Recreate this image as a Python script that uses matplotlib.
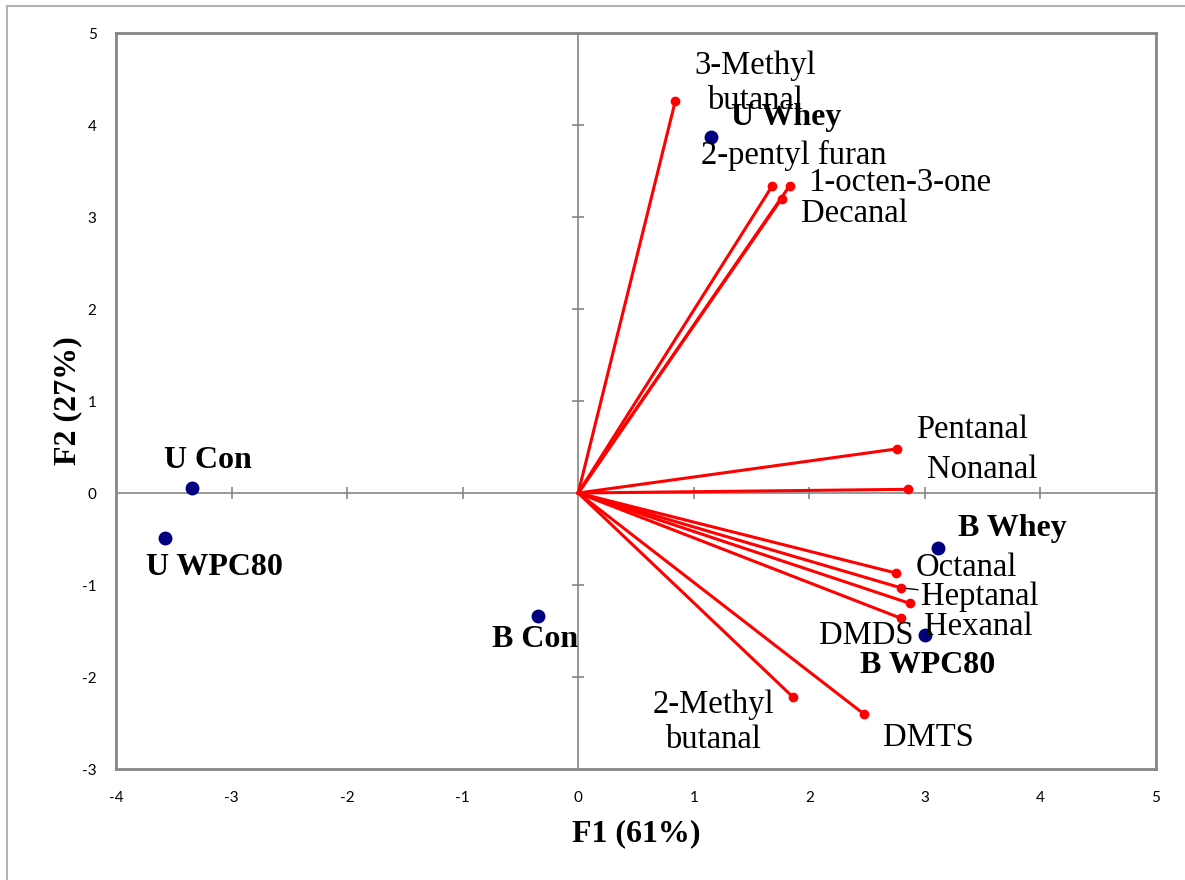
import matplotlib
matplotlib.use("Agg")
import matplotlib.pyplot as plt
from matplotlib.lines import Line2D

plt.rcParams["axes.unicode_minus"] = False

# PCA scores (samples) and loadings (volatiles), F1 vs F2
samples = ["U Whey", "U Con", "U WPC80", "B Con", "B Whey", "B WPC80"]
sample_f1 = [1.15, -3.34, -3.58, -0.35, 3.11, 3.00]
sample_f2 = [3.87, 0.05, -0.49, -1.34, -0.60, -1.54]

volatiles = ["3-Methyl\nbutanal", "2-pentyl furan", "1-octen-3-one", "Decanal",
             "Pentanal", "Nonanal", "Octanal", "Heptanal", "Hexanal", "DMDS",
             "2-Methyl\nbutanal", "DMTS"]
vol_f1 = [0.84, 1.68, 1.83, 1.76, 2.76, 2.85, 2.75, 2.79, 2.87, 2.79, 1.86, 2.47]
vol_f2 = [4.26, 3.34, 3.34, 3.20, 0.48, 0.04, -0.87, -1.03, -1.20, -1.36, -2.22, -2.40]

x_ticks = [-4, -3, -2, -1, 0, 1, 2, 3, 4, 5]
y_ticks = [-3, -2, -1, 0, 1, 2, 3, 4, 5]

# label offsets in pixels (dx, dy) from each point
sample_offsets = [(75, 19), (16, 28), (50, -29), (-3, -23), (75, 20), (3, -31)]
vol_offsets = [(80, 18), (21, 30), (110, 3), (73, -15), (75, 19), (75, 20),
               (70, 5), (79, -9), (68, -23), (-34, -18), (-80, -25), (65, -24)]

serif = "Liberation Serif"
gray = "#868686"

fig = plt.figure(figsize=(11.85, 8.8), dpi=100)
ax = fig.add_axes([116 / 1185, 1 - 769 / 880, 1040 / 1185, 736 / 880])

# outer chart border (top and left only visible)
fig.add_artist(Line2D([6.5 / 1185, 6.5 / 1185], [0, 1 - 6.5 / 880],
                      transform=fig.transFigure, color="#b3b3b3", lw=1.5))
fig.add_artist(Line2D([6.5 / 1185, 1], [1 - 6.5 / 880, 1 - 6.5 / 880],
                      transform=fig.transFigure, color="#b3b3b3", lw=1.5))

ax.set_xlim(-4, 5)
ax.set_ylim(-3, 5)
ax.set_xticks(x_ticks)
ax.set_yticks(y_ticks)
ax.tick_params(length=0, labelsize=11)
ax.tick_params(axis="x", pad=16)
ax.tick_params(axis="y", pad=14)
for lab in ax.get_xticklabels() + ax.get_yticklabels():
    lab.set_fontfamily("Lato")
for s in ax.spines.values():
    s.set_color(gray)
    s.set_linewidth(2)

# zero axes with crossing tick marks
ax.axhline(0, color=gray, lw=1.2, zorder=1)
ax.axvline(0, color=gray, lw=1.2, zorder=1)
xt = [t for t in x_ticks[1:-1] if t != 0]
yt = [t for t in y_ticks[1:-1] if t != 0]
ax.plot(xt, [0] * len(xt), ls="none", marker="|", ms=8, mew=1.2, color=gray, zorder=1)
ax.plot([0] * len(yt), yt, ls="none", marker="_", ms=8, mew=1.2, color=gray, zorder=1)

# loading vectors
for x, y in zip(vol_f1, vol_f2):
    ax.plot([0, x], [0, y], color="red", lw=2.2, zorder=2)
ax.plot(vol_f1, vol_f2, ls="none", marker="o", ms=6, color="red", zorder=3)

# sample scores
ax.plot(sample_f1, sample_f2, ls="none", marker="o", ms=9, color="#000080", zorder=4)

for name, x, y, off in zip(volatiles, vol_f1, vol_f2, vol_offsets):
    kw = {}
    if name == "Heptanal":
        kw["arrowprops"] = dict(arrowstyle="-", color="black", lw=1,
                                shrinkA=0, shrinkB=4)
    ax.annotate(name, (x, y), xytext=off, textcoords="offset pixels",
                ha="center", va="center", fontsize=23.5, family=serif,
                linespacing=1.2, zorder=5, **kw)

for name, x, y, off in zip(samples, sample_f1, sample_f2, sample_offsets):
    ax.annotate(name, (x, y), xytext=off, textcoords="offset pixels",
                ha="center", va="center", fontsize=23, family=serif,
                fontweight="bold", zorder=5)

ax.set_xlabel("F1 (61%)", fontsize=23, family=serif, fontweight="bold", labelpad=10)
ax.set_ylabel("F2 (27%)", fontsize=23, family=serif, fontweight="bold", labelpad=0)

fig.savefig("out.png", dpi=100)
